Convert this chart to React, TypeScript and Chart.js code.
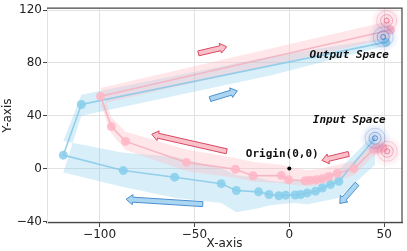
import React, { useEffect, useRef } from "react";
import { Chart, registerables } from "chart.js";

Chart.register(...registerables);

// ---------------- data ----------------
const xTicks = [-100, -50, 0, 50];
const yTicks = [-40, 0, 40, 80, 120];

// blue trajectory: Input Space -> ... -> Output Space
const blueX = [45.2, 26.1, 21.7, 17.4, 13.8, 9.5, 6.0, 3.0, -1.9, -5.5, -10.7, -16.2, -27.9, -35.9, -60.4, -87.5, -119.1, -109.6, 50.9];
const blueY = [23.0, -9.7, -12.1, -14.7, -17.1, -18.4, -19.6, -20.0, -20.1, -20.6, -19.6, -17.6, -16.6, -11.4, -6.5, -1.5, 10.2, 48.6, 95.8];

// blue shaded band
const blueBandX = [45.2, 26.1, 17.4, 9.5, 3.0, -5.5, -10.7, -16.2, -27.9, -35.9, -60.4, -87.5, -119.1, -109.6, -10.0, 50.9];
const blueBandUpper = [27, -1, -5, -8, -9, -10, -9, -7, -5, 0, 9, 12, 21, 56, 85, 99];
const blueBandLower = [3, -22, -25, -27, -26, -27, -28, -30, -33, -26, -22, -14, -3, 40, 70.5, 93];

// pink trajectory
const pinkX = [49.5, 46.9, 44.3, 34.0, 25.3, 20.7, 17.2, 14.2, 11.0, 8.4, -0.4, -4.2, -19.1, -28.4, -54.2, -86.3, -93.8, -99.5, 53.3];
const pinkY = [15.6, 15.1, 14.4, 0.0, -3.5, -6.0, -7.7, -8.4, -8.9, -9.2, -8.4, -5.2, -5.4, -0.5, 4.7, 20.6, 31.8, 54.8, 105.0];
const pinkBandUpper = [20, 19.5, 19, 6, 3, 1.5, 0, -0.5, -1, -1, 1.5, 3, 5, 8, 14.5, 28, 39, 61, 112];
const pinkBandLower = [11, 10.5, 9.5, -5, -9, -11, -12, -13, -13, -13, -12, -11, -10, -7, -2, 14, 26.5, 49, 99];

// direction arrows
const arrowKind = ["pink", "pink", "pink", "blue", "blue", "blue"];
const arrowTailX = [-47.9, -33.0, 31.3, -41.8, -45.6, 35.7];
const arrowTailY = [87.3, 13.1, 11.1, 52.7, -26.9, -11.6];
const arrowHeadX = [-33.0, -72.5, 17.2, -27.4, -86.0, 26.6];
const arrowHeadY = [92.3, 26.0, 6.2, 58.9, -23.2, -26.4];

// concentric "space" markers
const ringKind = ["blue", "pink", "pink", "blue"];
const ringX = [45.2, 51.6, 51.3, 49.5];
const ringY = [23.0, 13.1, 112.1, 99.7];

// annotations
const labelText = ["Output Space", "Input Space", "Origin(0,0)"];
const labelX = [31.6, 31.6, -3.7];
const labelY = [86.1, 36.7, 10.7];
const labelItalic = [true, true, false];

const originX = [0];
const originY = [0];

// ---------------- helpers ----------------
const pts = (xs: number[], ys: number[]) => xs.map((x, i) => ({ x, y: ys[i] }));
const band = (xs: number[], up: number[], lo: number[]) => {
  const a = xs.map((x, i) => ({ x, y: up[i] }));
  const b = xs.map((x, i) => ({ x, y: lo[i] })).reverse();
  return [...a, ...b];
};
const fmt = (v: number) => String(v).replace("-", "\u2212");

const COLORS: Record<string, { fill: string; stroke: string; rgb: string }> = {
  pink: { fill: "rgba(250,190,200,0.95)", stroke: "#d9485f", rgb: "232,100,135" },
  blue: { fill: "rgba(165,212,240,0.95)", stroke: "#4a8fd0", rgb: "60,115,200" },
};

function drawArrow(ctx: CanvasRenderingContext2D, x0: number, y0: number, x1: number, y1: number, fill: string, stroke: string) {
  const dx = x1 - x0, dy = y1 - y0;
  const L = Math.hypot(dx, dy);
  const ux = dx / L, uy = dy / L;
  const nx = -uy, ny = ux;
  const sw = 2.5, hw = 5.0, hl = 6.5;
  const bx = x1 - ux * hl, by = y1 - uy * hl;
  const p = [
    [x0 + nx * sw, y0 + ny * sw],
    [bx + nx * sw, by + ny * sw],
    [bx + nx * hw, by + ny * hw],
    [x1, y1],
    [bx - nx * hw, by - ny * hw],
    [bx - nx * sw, by - ny * sw],
    [x0 - nx * sw, y0 - ny * sw],
  ];
  ctx.beginPath();
  ctx.moveTo(p[0][0], p[0][1]);
  for (let i = 1; i < p.length; i++) ctx.lineTo(p[i][0], p[i][1]);
  ctx.closePath();
  ctx.fillStyle = fill;
  ctx.fill();
  ctx.strokeStyle = stroke;
  ctx.lineWidth = 1;
  ctx.stroke();
}

function drawRings(ctx: CanvasRenderingContext2D, cx: number, cy: number, rgb: string) {
  const g = ctx.createRadialGradient(cx, cy, 0, cx, cy, 16);
  g.addColorStop(0, `rgba(${rgb},0.28)`);
  g.addColorStop(0.6, `rgba(${rgb},0.12)`);
  g.addColorStop(1, `rgba(${rgb},0)`);
  ctx.fillStyle = g;
  ctx.beginPath();
  ctx.arc(cx, cy, 16, 0, Math.PI * 2);
  ctx.fill();
  const rings: [number, number][] = [[2.5, 0.75], [6, 0.45], [10, 0.25]];
  for (const [r, a] of rings) {
    ctx.strokeStyle = `rgba(${rgb},${a})`;
    ctx.lineWidth = 1;
    ctx.beginPath();
    ctx.arc(cx, cy, r, 0, Math.PI * 2);
    ctx.stroke();
  }
}

const overlayPlugin = {
  id: "overlay",
  afterDatasetsDraw(chart: any) {
    const { ctx, chartArea } = chart;
    const xs = chart.scales.x, ys = chart.scales.y;
    ctx.save();
    ctx.beginPath();
    ctx.rect(chartArea.left, chartArea.top, chartArea.right - chartArea.left, chartArea.bottom - chartArea.top);
    ctx.clip();
    ringX.forEach((v, i) => {
      drawRings(ctx, xs.getPixelForValue(v), ys.getPixelForValue(ringY[i]), COLORS[ringKind[i]].rgb);
    });
    arrowTailX.forEach((v, i) => {
      const c = COLORS[arrowKind[i]];
      drawArrow(
        ctx,
        xs.getPixelForValue(v), ys.getPixelForValue(arrowTailY[i]),
        xs.getPixelForValue(arrowHeadX[i]), ys.getPixelForValue(arrowHeadY[i]),
        c.fill, c.stroke
      );
    });
    labelText.forEach((t, i) => {
      ctx.font = `${labelItalic[i] ? "italic " : ""}bold 11px "DejaVu Sans Mono"`;
      ctx.fillStyle = "#111";
      ctx.textAlign = "center";
      ctx.textBaseline = "middle";
      ctx.fillText(t, xs.getPixelForValue(labelX[i]), ys.getPixelForValue(labelY[i]));
    });
    ctx.restore();
  },
  afterDraw(chart: any) {
    const { ctx, chartArea } = chart;
    ctx.save();
    ctx.strokeStyle = "#444";
    ctx.lineWidth = 1.2;
    ctx.beginPath();
    ctx.moveTo(chartArea.left, chartArea.top);
    ctx.lineTo(chartArea.right, chartArea.top);
    ctx.lineTo(chartArea.right, chartArea.bottom);
    ctx.stroke();
    ctx.restore();
  },
};

export default function App() {
  const ref = useRef<HTMLCanvasElement>(null);
  useEffect(() => {
    Chart.defaults.font.family = "'DejaVu Sans', sans-serif";
    Chart.defaults.font.size = 12;
    const chart = new Chart(ref.current as HTMLCanvasElement, {
      type: "line",
      data: {
        datasets: [
          {
            label: "origin",
            data: pts(originX, originY),
            showLine: false,
            pointRadius: 2,
            pointBackgroundColor: "#000",
            pointBorderWidth: 0,
            order: 1,
          },
          {
            label: "pink",
            data: pts(pinkX, pinkY),
            borderColor: "rgba(245,175,190,0.85)",
            borderWidth: 1.6,
            pointRadius: 4.5,
            pointBackgroundColor: "rgba(255,182,198,0.85)",
            pointBorderWidth: 0,
            fill: false,
            tension: 0,
            order: 3,
          },
          {
            label: "blue",
            data: pts(blueX, blueY),
            borderColor: "rgba(135,200,232,0.85)",
            borderWidth: 1.6,
            pointRadius: (c: any) => (c.dataIndex === 0 ? 0 : 4.5),
            pointBackgroundColor: "rgba(135,206,235,0.85)",
            pointBorderWidth: 0,
            fill: false,
            tension: 0,
            order: 4,
          },
          {
            label: "pinkBand",
            data: band(pinkX, pinkBandUpper, pinkBandLower),
            borderWidth: 0,
            borderColor: "rgba(0,0,0,0)",
            backgroundColor: "rgba(255,182,193,0.35)",
            pointRadius: 0,
            fill: "shape",
            order: 9,
          },
          {
            label: "blueBand",
            data: band(blueBandX, blueBandUpper, blueBandLower),
            borderWidth: 0,
            borderColor: "rgba(0,0,0,0)",
            backgroundColor: "rgba(135,206,235,0.32)",
            pointRadius: 0,
            fill: "shape",
            order: 10,
          },
        ],
      },
      options: {
        responsive: false,
        animation: false,
        events: [],
        layout: { padding: { top: 4, right: 5, left: 0, bottom: 0 } },
        plugins: { legend: { display: false }, tooltip: { enabled: false } },
        scales: {
          x: {
            type: "linear",
            min: -127.7,
            max: 59.4,
            afterBuildTicks: (s: any) => {
              s.ticks = xTicks.map((v) => ({ value: v }));
            },
            afterFit: (s: any) => {
              s.height = 28;
            },
            grid: { color: "#e2e2e2", lineWidth: 1, tickColor: "#444", tickLength: 4 },
            border: { color: "#444", width: 1.2 },
            ticks: { padding: 1, color: "#222", maxRotation: 0, autoSkip: false, callback: (v: any) => fmt(v) },
            title: { display: true, text: "X-axis", color: "#222", font: { size: 12 }, padding: { top: 0, bottom: 0 } },
          },
          y: {
            type: "linear",
            min: -41.2,
            max: 121.5,
            afterBuildTicks: (s: any) => {
              s.ticks = yTicks.map((v) => ({ value: v }));
            },
            afterFit: (s: any) => {
              s.width = 47;
            },
            grid: { color: "#e2e2e2", lineWidth: 1, tickColor: "#444", tickLength: 4 },
            border: { color: "#e2e2e2", width: 1 },
            ticks: { padding: 1, color: "#222", autoSkip: false, callback: (v: any) => fmt(v) },
            title: { display: true, text: "Y-axis", color: "#222", font: { size: 12 }, padding: { top: 1, bottom: 0 } },
          },
        },
      },
      plugins: [overlayPlugin],
    } as any);
    return () => chart.destroy();
  }, []);
  return (
    <div style={{ position: "absolute", left: 0, top: 0, width: 407, height: 251 }}>
      <canvas ref={ref} width={407} height={251} style={{ display: "block" }} />
    </div>
  );
}
